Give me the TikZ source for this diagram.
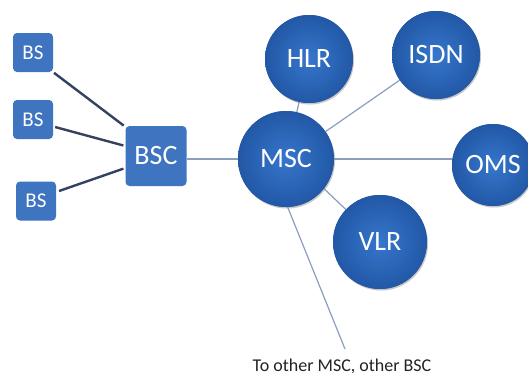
\documentclass[tikz,border=0pt]{standalone}
\usepackage{fontspec}
\setmainfont{Carlito}
\usetikzlibrary{shadows}
\definecolor{boxblue}{RGB}{62,116,192}
\definecolor{circin}{RGB}{54,118,204}
\definecolor{circout}{RGB}{34,88,166}
\definecolor{darkline}{RGB}{52,66,96}
\definecolor{thinline}{RGB}{140,158,190}
\definecolor{txtgray}{RGB}{35,35,35}
\begin{document}
\begin{tikzpicture}[x=1pt,y=-1pt,
  bsbox/.style={rectangle,rounded corners=4pt,fill=boxblue,text=white,
    minimum width=40pt,minimum height=39pt,inner sep=0pt,font=\fontsize{21}{21}\selectfont},
  bscbox/.style={bsbox,minimum width=61pt,minimum height=60pt,font=\fontsize{28}{28}\selectfont},
  ball/.style={circle,inner color=circin,outer color=circout,text=white,inner sep=0pt,
    minimum size=#1,font=\fontsize{28}{28}\selectfont,
    drop shadow={shadow xshift=1pt,shadow yshift=-1.5pt,opacity=0.25}},
  heavy/.style={draw=darkline,line width=2.4pt},
  thin/.style={draw=thinline,line width=1.2pt},
  note/.style={text=txtgray,font=\fontsize{18}{18}\selectfont}]
\useasboundingbox[fill=white] (0,0) rectangle (528,378);
% boxes
\node[bsbox] (bs1) at (33,52.5) {BS};
\node[bsbox] (bs2) at (33,119.5) {BS};
\node[bsbox] (bs3) at (36,201) {BS};
\node[bscbox] (bsc) at (156,156) {BSC};
% circles
\node[ball=96pt] (msc) at (286,159) {MSC};
\node[ball=88pt] (hlr) at (309,59) {HLR};
\node[ball=88pt] (isdn) at (436,55) {ISDN};
\node[ball=82pt] (oms) at (493,165) {OMS};
\node[ball=94pt] (vlr) at (380,242) {VLR};
% note
\node[note] (other) at (342,366) {To other MSC, other BSC};
\coordinate (otherend) at (345,349);
% connectors
\draw[heavy,shorten <=1pt,shorten >=2pt] (bs1.south east) -- ([yshift=-1pt]bsc.north west);
\draw[heavy,shorten <=2pt,shorten >=2pt] ([yshift=-7pt]bs2.east) -- ([yshift=10pt]bsc.west);
\draw[heavy,shorten <=3pt,shorten >=2pt] ([yshift=9pt]bs3.east) -- ([yshift=-12pt]bsc.west);
\draw[thin] ([yshift=-3pt]bsc.east) -- (msc.west |- {(0,159)});
\draw[thin] (msc) -- (hlr);
\draw[thin] (msc) -- (isdn);
\draw[thin] (msc.east |- {(0,159)}) -- (oms.west |- {(0,159)});
\draw[thin] (msc.-38) -- (vlr);
\draw[thin] (msc.-88) -- (otherend);
% redraw circles on top of connector ends
\node[ball=96pt] at (msc) {MSC};
\node[ball=88pt] at (hlr) {HLR};
\node[ball=88pt] at (isdn) {ISDN};
\node[ball=82pt] at (oms) {OMS};
\node[ball=94pt] at (vlr) {VLR};
\end{tikzpicture}
\end{document}
